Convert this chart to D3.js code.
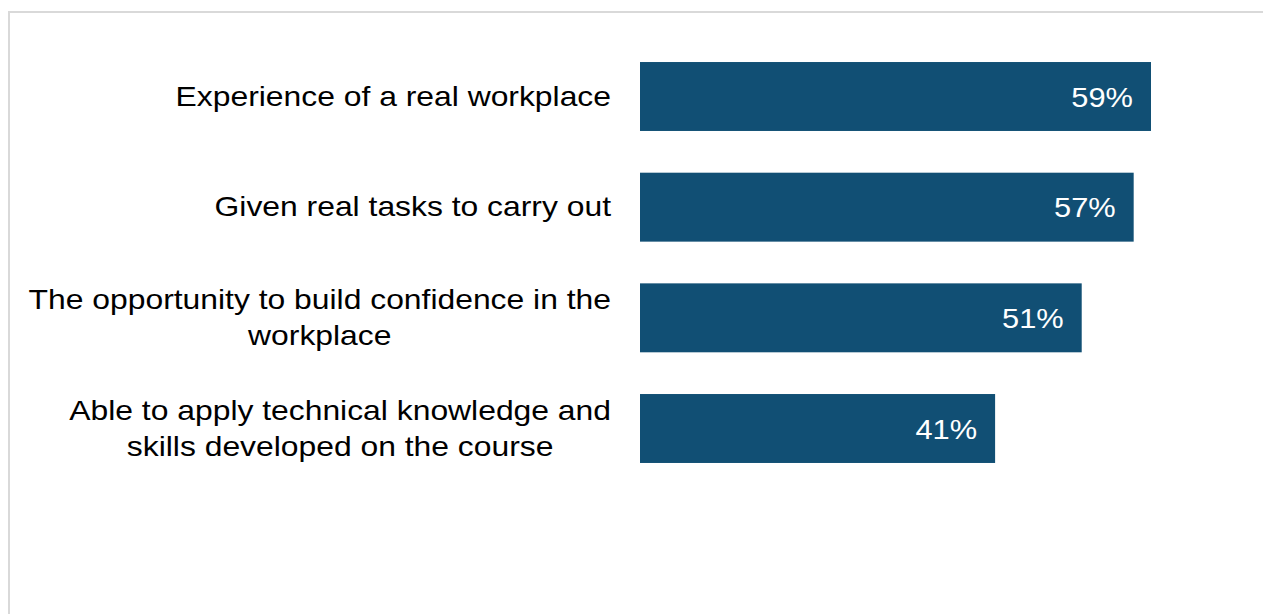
<!DOCTYPE html>
<html>
<head>
<meta charset="utf-8">
<script src="https://cdn.jsdelivr.net/npm/d3@7"></script>
<style>
  html, body { margin: 0; padding: 0; background: #ffffff; }
  svg { display: block; }
  text { font-family: "Liberation Sans", Arial, sans-serif; }
</style>
</head>
<body>
<svg id="chart" width="1263" height="614"></svg>
<script>
// Survey responses: benefits of the work placement
const categories = [
  ["Experience of a real workplace"],
  ["Given real tasks to carry out"],
  ["The opportunity to build confidence in the", "workplace"],
  ["Able to apply technical knowledge and", "skills developed on the course"]
];
const values = [59, 57, 51, 41];
const valueLabels = ["59%", "57%", "51%", "41%"];

const svg = d3.select("#chart");
const W = 1263, H = 614;
const stretch = 1.18;     // category text is set wide
const valueStretch = 1.1; // value labels slightly wide

// Frame around the chart area
svg.append("rect")
  .attr("x", 9).attr("y", 12)
  .attr("width", W + 10).attr("height", H + 10)
  .attr("fill", "#ffffff")
  .attr("stroke", "#d9d9d9")
  .attr("stroke-width", 2);

const x = d3.scaleLinear().domain([0, 59]).range([640, 1151]);
const y = d3.scaleBand()
  .domain(d3.range(categories.length))
  .range([41, 484])
  .paddingInner(0.377)
  .paddingOuter(0.19);

const g = svg.append("g");

g.selectAll("rect.bar")
  .data(values)
  .join("rect")
  .attr("class", "bar")
  .attr("x", x(0))
  .attr("y", (d, i) => y(i))
  .attr("width", d => x(d) - x(0))
  .attr("height", y.bandwidth())
  .attr("fill", "#114f74");

g.selectAll("text.val")
  .data(values)
  .join("text")
  .attr("class", "val")
  .attr("transform", (d, i) =>
    `translate(${x(d) - 18},${y(i) + y.bandwidth() / 2}) scale(${valueStretch},1)`)
  .attr("dy", "0.36em")
  .attr("text-anchor", "end")
  .attr("fill", "#ffffff")
  .attr("font-size", 28)
  .text((d, i) => valueLabels[i]);

// Category labels: lines centred within a block right-aligned to the axis
const labelRight = 611;
const lineH = 36;
categories.forEach((lines, i) => {
  const cy = y(i) + y.bandwidth() / 2;
  const t = g.append("text")
    .attr("transform", `translate(${labelRight},${cy}) scale(${stretch},1)`)
    .attr("font-size", 27)
    .attr("fill", "#000000");
  const spans = lines.map((s, k) =>
    t.append("tspan")
      .attr("y", (k - (lines.length - 1) / 2) * lineH)
      .attr("dy", "0.34em")
      .text(s));
  const widths = spans.map(s => s.node().getComputedTextLength());
  const maxW = d3.max(widths);
  spans.forEach(s => s.attr("x", -maxW / 2).attr("text-anchor", "middle"));
});
</script>
</body>
</html>
